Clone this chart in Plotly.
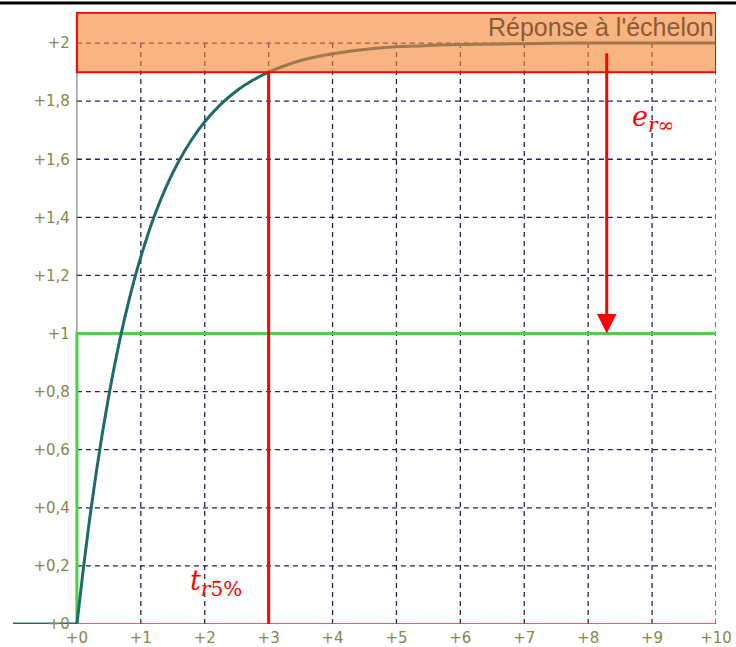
import plotly.graph_objects as go

# ---- data ----
t_resp = [0, 0.1, 0.2, 0.3, 0.4, 0.5, 0.6, 0.7, 0.8, 0.9, 1.0, 1.2, 1.4, 1.6, 1.8,
          2.0, 2.25, 2.5, 2.75, 3.0, 3.25, 3.5, 3.75, 4.0, 4.5, 5.0, 5.5, 6.0, 7.0, 8.0, 9.0, 10.0]
y_resp = [0, 0.19, 0.363, 0.518, 0.659, 0.787, 0.902, 1.007, 1.101, 1.187, 1.264, 1.398, 1.507,
          1.596, 1.669, 1.729, 1.789, 1.836, 1.872, 1.900, 1.922, 1.940, 1.953, 1.963, 1.978,
          1.987, 1.992, 1.995, 1.998, 2.0, 2.0, 2.0]
t_before = [-1, 0]
y_before = [0, 0]
t_step = [0, 0, 10]
y_step = [0, 1, 1]
t_r5 = 3
y_r5 = 1.90
y_input = 1.0
arrow_x = 8.29

x_ticks = list(range(0, 11))
x_labels = ["+%d" % v for v in x_ticks]
y_ticks = [0, 0.2, 0.4, 0.6, 0.8, 1.0, 1.2, 1.4, 1.6, 1.8, 2.0]
y_labels = ["+0", "+0,2", "+0,4", "+0,6", "+0,8", "+1", "+1,2", "+1,4", "+1,6", "+1,8", "+2"]

title_text = "Réponse à l'échelon"

GRID = "#23235a"
TEAL = "#1f6b6b"
GREEN = "#44d544"
RED = "#ff0000"
TICKC = "#86864e"

fig = go.Figure()

fig.add_trace(go.Scatter(x=t_step, y=y_step, mode="lines",
                         line=dict(color=GREEN, width=3), hoverinfo="skip"))
fig.add_trace(go.Scatter(x=t_before, y=y_before, mode="lines",
                         line=dict(color=TEAL, width=3), hoverinfo="skip"))
fig.add_trace(go.Scatter(x=t_resp, y=y_resp, mode="lines",
                         line=dict(color=TEAL, width=3, shape="spline", smoothing=1.0),
                         hoverinfo="skip"))
fig.add_trace(go.Scatter(x=[t_r5, t_r5], y=[0, y_r5], mode="lines",
                         line=dict(color=RED, width=3), hoverinfo="skip"))

shapes = []
# grid
for xv in x_ticks[1:]:
    shapes.append(dict(type="line", x0=xv, x1=xv, y0=0, y1=y_ticks[-1], xref="x", yref="y",
                       line=dict(color=GRID, width=1.3, dash="5px,4px"), layer="below"))
for yv in y_ticks[1:]:
    shapes.append(dict(type="line", x0=0, x1=x_ticks[-1], y0=yv, y1=yv, xref="x", yref="y",
                       line=dict(color=GRID, width=1.3, dash="5px,4px"), layer="below"))
# axis lines
shapes.append(dict(type="line", x0=0, x1=0, y0=0, y1=y_ticks[-1], xref="x", yref="y",
                   line=dict(color="#6a6a6a", width=1), layer="below"))
shapes.append(dict(type="line", x0=0, x1=x_ticks[-1], y0=0, y1=0, xref="x", yref="y",
                   line=dict(color="#c03a3a", width=1.5), layer="below"))
# response band (5%)
shapes.append(dict(type="rect", x0=0, x1=x_ticks[-1], y0=y_r5, y1=2.104, xref="x", yref="y",
                   fillcolor="rgba(245,130,50,0.6)", line=dict(color=RED, width=2),
                   layer="above"))
# top black page border
shapes.append(dict(type="line", x0=-0.02, x1=1.03, y0=1.0147, y1=1.0147,
                   xref="paper", yref="paper", line=dict(color="black", width=3)))

annotations = [
    dict(x=10, y=2.104, xref="x", yref="y", text=title_text, showarrow=False,
         xanchor="right", yanchor="top", xshift=0, yshift=2,
         font=dict(family="Liberation Sans", size=25, color="#8a5a30")),
    dict(x=arrow_x, y=y_input, ax=arrow_x, ay=1.97, xref="x", yref="y", axref="x", ayref="y",
         text="", showarrow=True, arrowhead=2, arrowsize=1.3, arrowwidth=3,
         arrowcolor=RED, standoff=0),
    dict(x=9.02, y=1.74, xref="x", yref="y",
         text="<i>e</i><sub><span style='font-size:20px'><i>r</i>∞</span></sub>",
         showarrow=False,
         font=dict(family="DejaVu Serif", size=27, color=RED)),
    dict(x=2.18, y=0.14, xref="x", yref="y",
         text="<i>t</i><sub><span style='font-size:20px'><i>r</i>5%</span></sub>",
         showarrow=False,
         font=dict(family="DejaVu Serif", size=27, color=RED)),
]

fig.update_layout(
    width=736, height=647,
    margin=dict(l=13, r=20, t=12, b=23, autoexpand=False),
    paper_bgcolor="white", plot_bgcolor="white",
    showlegend=False,
    shapes=shapes, annotations=annotations,
    xaxis=dict(range=[-1, 10], showgrid=False, zeroline=False, showline=False,
               automargin=False,
               tickvals=x_ticks, ticktext=x_labels, ticks="", ticklen=0,
               ticklabelstandoff=3,
               tickfont=dict(family="DejaVu Sans", size=15, color=TICKC), fixedrange=True),
    yaxis=dict(range=[0, 2.107], showgrid=False, zeroline=False, showline=False,
               automargin=False,
               anchor="free", position=1 / 11,
               tickvals=y_ticks, ticktext=y_labels, ticks="outside", ticklen=4,
               tickcolor="rgba(0,0,0,0)",
               tickfont=dict(family="DejaVu Sans", size=15, color=TICKC), fixedrange=True),
)

fig.write_html("out.html")
